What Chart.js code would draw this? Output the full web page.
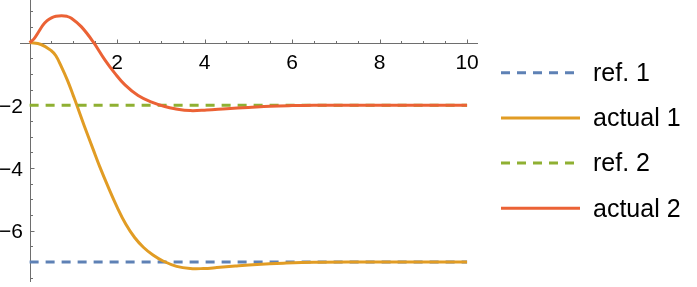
<!DOCTYPE html>
<html><head><meta charset="utf-8">
<script src="https://cdn.jsdelivr.net/npm/chart.js@4/dist/chart.umd.min.js"></script>
<style>html,body{margin:0;padding:0;background:#fff;overflow:hidden}canvas{display:block}</style>
</head><body>
<canvas id="c" width="697" height="287"></canvas>
<script>
// ---- data ----
const t1Values = [0,0.26,0.49,0.6,0.72,0.87,1.0,1.08,1.25,1.45,1.6,1.8,2.0,2.2,2.4,2.6,2.82,3.05,3.36,3.67,3.97,4.28,4.7,5.2,5.8,6.5,7.5,8.5,10];
const actual1  = [0,-0.06,-0.25,-0.42,-0.75,-1.22,-1.7,-2.0,-2.66,-3.4,-3.95,-4.62,-5.25,-5.8,-6.22,-6.53,-6.78,-6.97,-7.14,-7.21,-7.21,-7.18,-7.13,-7.08,-7.04,-7.01,-7.0,-7.0,-7.0];
const t2Values = [0,0.1,0.2,0.3,0.4,0.5,0.6,0.73,0.85,0.955,1.18,1.45,1.72,1.95,2.18,2.48,2.79,3.09,3.32,3.67,4.05,4.5,5.0,5.5,6.0,6.5,7,8,9,10];
const actual2  = [0,0.12,0.33,0.55,0.70,0.79,0.84,0.86,0.84,0.78,0.51,0.03,-0.55,-0.98,-1.35,-1.69,-1.90,-2.04,-2.11,-2.17,-2.15,-2.11,-2.07,-2.03,-2.01,-2.0,-2.0,-2.0,-2.0,-2.0];
const refT = [0,10];
const ref1 = [-7,-7];
const ref2 = [-2,-2];
const seriesLabels = ['ref. 1','actual 1','ref. 2','actual 2'];
const seriesColors = ['#5E81B5','#E19C24','#8FB032','#EB6235'];
const xTickValues = [2,4,6,8,10];
const xTickLabels = ['2','4','6','8','10'];
const yTickValues = [-2,-4,-6];
const yTickLabels = ['\u22122','\u22124','\u22126'];

const pts = (xs, ys) => xs.map((v,i)=>({x:v,y:ys[i]}));

const axesPlugin = {
  id:'mmaAxes',
  beforeDatasetsDraw(chart){
    const {ctx, chartArea:a, scales:{x,y}} = chart;
    const x0 = Math.round(x.getPixelForValue(0))+0.5;
    const y0 = Math.round(y.getPixelForValue(0))+0.5;
    ctx.save();
    ctx.strokeStyle = '#6e6e6e';
    ctx.lineWidth = 1;
    ctx.beginPath();
    ctx.moveTo(a.left, y0); ctx.lineTo(a.right, y0);
    ctx.moveTo(x0, a.top); ctx.lineTo(x0, a.bottom);
    for (let v = 0.5; v <= x.max; v += 0.5) {
      const px = Math.round(x.getPixelForValue(v))+0.5;
      const len = (v % 2 === 0) ? 4 : 2.5;
      ctx.moveTo(px, y0); ctx.lineTo(px, y0 - len);
    }
    for (let v = Math.ceil(y.min*2)/2; v <= y.max; v += 0.5) {
      if (v === 0) continue;
      const py = Math.round(y.getPixelForValue(v))+0.5;
      const len = (v % 2 === 0) ? 4 : 2.5;
      ctx.moveTo(x0, py); ctx.lineTo(x0 + len, py);
    }
    ctx.stroke();
    ctx.fillStyle = '#000';
    ctx.font = '21px "Liberation Sans", Arial, sans-serif';
    ctx.textAlign = 'center';
    ctx.textBaseline = 'alphabetic';
    xTickValues.forEach((v,i)=>{
      ctx.fillText(xTickLabels[i], x.getPixelForValue(v), y0 + 25.5);
    });
    ctx.textAlign = 'right';
    yTickValues.forEach((v,i)=>{
      ctx.fillText(yTickLabels[i], x0 - 7.5, y.getPixelForValue(v) + 7.6);
    });
    ctx.restore();
  },
  afterDraw(chart){
    const {ctx} = chart;
    ctx.save();
    ctx.font = '25px "Liberation Sans", Arial, sans-serif';
    ctx.textAlign = 'left';
    ctx.textBaseline = 'middle';
    chart.data.datasets.forEach((ds,i)=>{
      const cy = 72.7 + i*45.2;
      ctx.strokeStyle = ds.borderColor;
      ctx.lineWidth = ds.borderWidth;
      ctx.setLineDash(ds.borderDash || []);
      ctx.beginPath();
      ctx.moveTo(501, cy); ctx.lineTo(580, cy);
      ctx.stroke();
      ctx.setLineDash([]);
      ctx.fillStyle = '#000';
      ctx.fillText(ds.label, 593, cy + 1.5);
    });
    ctx.restore();
  }
};

new Chart(document.getElementById('c'), {
  type:'line',
  data:{
    datasets:[
      {label:seriesLabels[0], data:pts(refT,ref1), borderColor:seriesColors[0], borderWidth:3, borderDash:[9,7], pointRadius:0, order:4},
      {label:seriesLabels[1], data:pts(t1Values,actual1), borderColor:seriesColors[1], borderWidth:3, pointRadius:0, tension:0.4, order:3},
      {label:seriesLabels[2], data:pts(refT,ref2), borderColor:seriesColors[2], borderWidth:3, borderDash:[9,7], pointRadius:0, order:2},
      {label:seriesLabels[3], data:pts(t2Values,actual2), borderColor:seriesColors[3], borderWidth:3, pointRadius:0, tension:0.4, order:1}
    ]
  },
  options:{
    responsive:false,
    animation:false,
    devicePixelRatio:1,
    layout:{padding:{left:20, top:0, right:219, bottom:5}},
    scales:{
      x:{type:'linear', min:-0.22, max:10.25, display:false},
      y:{type:'linear', min:-7.64, max:1.36, display:false}
    },
    plugins:{legend:{display:false}, tooltip:{enabled:false}}
  },
  plugins:[axesPlugin]
});
</script>
</body></html>
